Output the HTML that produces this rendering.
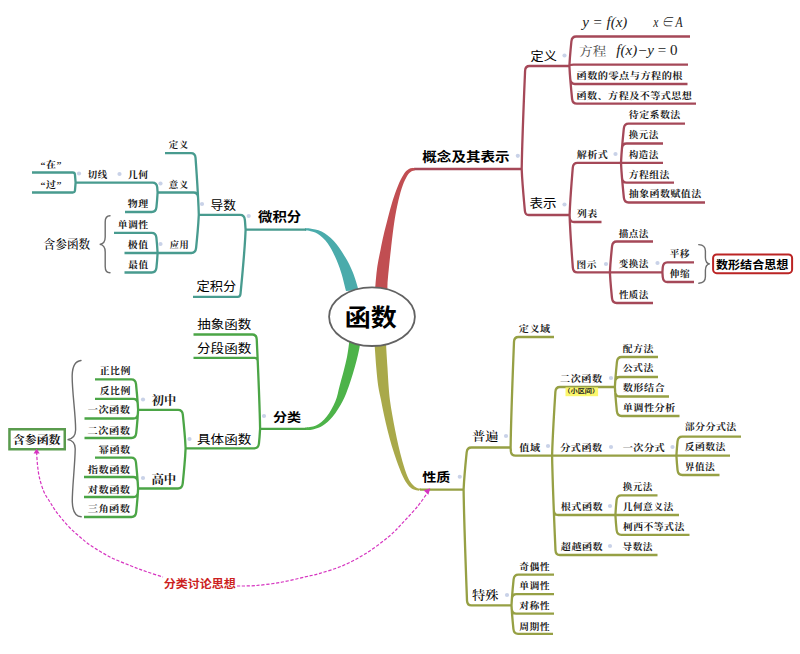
<!DOCTYPE html>
<html lang="zh-CN"><head><meta charset="utf-8"><title>函数 思维导图</title>
<style>html,body{margin:0;padding:0;background:#fff}svg{display:block}.ln{fill:none;stroke-width:2.3;stroke-linecap:butt;stroke-linejoin:round}.t{stroke:#489b8f}.g{stroke:#4ba546}.r{stroke:#a54858}.o{stroke:#96a044}.br{fill:none;stroke:#6c6c6c;stroke-width:1.4;stroke-linecap:round}</style></head><body>
<svg width="800" height="654" viewBox="0 0 800 654">
<rect width="800" height="654" fill="#fff"/>
<path d="M375,292 C375.08,290.67 375.1,288.33 375.5,284 C375.9,279.67 376.55,271.77 377.4,266 C378.25,260.23 379.58,254.47 380.6,249.4 C381.62,244.33 382.32,240.7 383.5,235.6 C384.68,230.5 386.17,224.65 387.7,218.8 C389.23,212.95 390.95,206.1 392.7,200.5 C394.45,194.9 396.38,189.53 398.2,185.2 C400.02,180.87 401.82,177.18 403.6,174.5 C405.38,171.82 407,170.21 408.9,169.1 C410.8,167.99 413.98,168.06 415,167.85 L415,170.15 C414.37,170.38 412.47,170.62 411.2,171.5 C409.93,172.38 408.8,173.12 407.4,175.4 C406,177.68 404.3,181.02 402.8,185.2 C401.3,189.38 399.73,194.9 398.4,200.5 C397.07,206.1 395.78,212.95 394.8,218.8 C393.82,224.65 393.15,230.5 392.5,235.6 C391.85,240.7 391.47,244.33 390.9,249.4 C390.33,254.47 389.67,260.23 389.1,266 C388.53,271.77 387.75,279.67 387.5,284 C387.25,288.33 387.58,290.67 387.6,292 Z" fill="#c14e52"/>
<path d="M305,228.35 C305.83,228.36 307.23,227.89 310,228.4 C312.77,228.91 317.63,229.3 321.6,231.4 C325.57,233.5 329.9,236.77 333.8,241 C337.7,245.23 341.83,251.6 345,256.8 C348.17,262 350.53,266.67 352.8,272.2 C355.07,277.73 357.63,287.03 358.6,290 L346,291 C345.2,287.95 343.03,278.43 341.2,272.7 C339.37,266.97 337.27,261.52 335,256.6 C332.73,251.68 330.5,247 327.6,243.2 C324.7,239.4 320.7,235.87 317.6,233.8 C314.5,231.73 311.1,231.33 309,230.8 C306.9,230.28 305.67,230.68 305,230.65 Z" fill="#4aabab"/>
<path d="M349.6,338 C349.48,339.1 349.33,341.43 348.9,344.6 C348.47,347.77 347.85,352.67 347,357 C346.15,361.33 345.03,365.78 343.8,370.6 C342.57,375.42 341,380.8 339.6,385.9 C338.2,391 337.55,396.1 335.4,401.2 C333.25,406.3 329.93,412.43 326.7,416.5 C323.47,420.57 319.57,423.75 316,425.6 C312.43,427.45 307.08,427.27 305.3,427.6 L305.3,429.9 C306.58,429.82 310.07,430.12 313,429.4 C315.93,428.68 319.6,427.75 322.9,425.6 C326.2,423.45 329.52,420.57 332.8,416.5 C336.08,412.43 339.92,406.3 342.6,401.2 C345.28,396.1 347.03,391 348.9,385.9 C350.77,380.8 352.42,375.25 353.8,370.6 C355.18,365.95 356.23,361.95 357.2,358 C358.17,354.05 359.05,350.23 359.6,346.9 C360.15,343.57 360.35,339.48 360.5,338 Z" fill="#4db349"/>
<path d="M374,338 C374.15,339.83 374.52,344 374.9,349 C375.28,354 375.75,361.83 376.3,368 C376.85,374.17 377.42,380.67 378.2,386 C378.98,391.33 380.03,395.17 381,400 C381.97,404.83 382.9,409.9 384,415 C385.1,420.1 386.3,425.43 387.6,430.6 C388.9,435.77 390.27,440.9 391.8,446 C393.33,451.1 394.95,456.12 396.8,461.2 C398.65,466.28 401.03,472.53 402.9,476.5 C404.77,480.47 406.32,482.87 408,485 C409.68,487.13 411.17,488.35 413,489.3 C414.83,490.25 418,490.47 419,490.7 L421,488.45 C420.33,488.36 418.5,488.64 417,487.9 C415.5,487.16 413.58,485.9 412,484 C410.42,482.1 409.1,480.3 407.5,476.5 C405.9,472.7 403.9,466.28 402.4,461.2 C400.9,456.12 399.7,451.1 398.5,446 C397.3,440.9 396.23,435.77 395.2,430.6 C394.17,425.43 393.18,420.1 392.3,415 C391.42,409.9 390.52,404.83 389.9,400 C389.28,395.17 389,391.33 388.6,386 C388.2,380.67 387.88,374.17 387.5,368 C387.12,361.83 386.55,354 386.3,349 C386.05,344 386.05,339.83 386,338 Z" fill="#a9a94a"/>
<path class="ln t" d="M306,229.7 H245 M245.6,229.7 L245.02,221.7 L244.82,219.6 Q244.33,214.8 240.13,214.8 H198.2 M245.6,229.7 L245.22,237.7 L244.7,245.7 L244.11,253.7 L243.46,261.7 L242.77,269.7 L242.05,277.7 L241.29,285.7 L240.51,293.7 L240.5,293.8 Q240.2,296.8 237.7,296.8 H193 M198.8,214.8 L198.52,206.8 L198.13,198.8 L197.69,190.8 L197.22,182.8 L196.71,174.8 L196.17,166.8 L195.61,158.8 L195.55,157.9 Q195.2,153.1 191,153.1 H165 M198.8,214.8 L198.52,206.8 L198.13,198.8 L198.05,197.3 Q197.79,192.5 193.59,192.5 H157 M198.8,214.8 L198.34,222.8 L197.71,230.8 L196.98,238.8 L196.2,246.8 L196.05,248.2 Q195.55,253 191.35,253 H157 M157.6,192.5 L157.23,187.4 Q156.76,182.6 152.56,182.6 H75 M157.6,192.5 L157.06,200.5 L156.44,207.2 Q155.94,212 151.74,212 H125 M75.6,182.6 L74.96,174.6 L74.95,174.5 Q74.74,172.5 72.74,172.5 H32 M75.6,182.6 L74.97,190.5 Q74.76,192.5 72.76,192.5 H32 M157.6,253 L157.06,245 L156.39,237.7 Q155.89,232.9 151.69,232.9 H114 M157,253 H124.5 M157.6,253 L157.06,261 L156.44,267.7 Q155.94,272.5 151.74,272.5 H124.5"/>
<path class="ln g" d="M306,428.8 H259.5 M260.1,428.8 L259.94,420.8 L259.71,412.8 L259.45,404.8 L259.17,396.8 L258.87,388.8 L258.55,380.8 L258.22,372.8 L257.88,364.8 L257.53,356.8 L257.17,348.8 L256.8,340.8 L256.73,339.3 Q256.5,334.5 252.3,334.5 H193.5 M260.1,428.8 L259.94,420.8 L259.71,412.8 L259.45,404.8 L259.17,396.8 L258.87,388.8 L258.55,380.8 L258.22,372.8 L257.88,364.8 L257.71,360.8 Q257.58,357.8 254.58,357.8 H193.5 M260.1,428.8 L259.56,436.8 L258.94,443.5 Q258.44,448.3 254.24,448.3 H185 M185.6,448.3 L185.14,440.3 L184.51,432.3 L183.79,424.3 L183,416.3 L182.83,414.6 Q182.33,409.8 178.13,409.8 H137.5 M185.6,448.3 L185.15,456.3 L184.52,464.3 L183.81,472.3 L183.03,480.3 L182.69,483.7 Q182.18,488.5 177.98,488.5 H137.5 M138.1,409.8 L137.61,401.8 L136.94,393.8 L136.18,385.8 L136.02,384.2 Q135.52,379.4 131.32,379.4 H95 M138.1,409.8 L137.75,403.6 Q137.37,398.8 133.17,398.8 H95 M138.1,409.8 L137.9,413.7 Q137.55,418.5 133.35,418.5 H84.5 M138.1,409.8 L137.6,417.8 L136.92,425.8 L136.2,433.2 Q135.7,438 131.5,438 H84.5 M138.1,488.5 L137.61,480.5 L136.95,472.5 L136.18,464.5 L135.98,462.5 Q135.48,457.7 131.28,457.7 H95 M138.1,488.5 L137.71,481.8 Q137.34,477 133.14,477 H84 M138.1,488.5 L137.91,492.2 Q137.57,497 133.37,497 H84 M138.1,488.5 L137.61,496.5 L136.92,504.5 L136.18,512.2 Q135.68,517 131.48,517 H84"/>
<path class="ln r" d="M414.5,169 H522.3 M521.7,169 L521.85,161 L522.05,153 L522.28,145 L522.54,137 L522.8,129 L523.09,121 L523.38,113 L523.69,105 L524,97 L524.32,89 L524.66,81 L525,73 L525.09,70.8 Q525.3,66 529.5,66 H570 M521.7,169 L522.1,177 L522.66,185 L523.3,193 L523.99,201 L524.72,209 L524.91,211 Q525.3,215 528.7,215 H570.2 M569.4,66 L569.89,58 L570.57,50 L571.34,42 L571.41,41.3 Q571.91,36.5 576.11,36.5 H690 M569.4,66 L569.4,66 Q569.46,64.6 573.66,64.6 H688 M569.4,66 L569.86,74 L570.26,79.2 Q570.67,84 574.87,84 H687.5 M569.4,66 L569.86,74 L570.5,82 L571.22,90 L572.01,98 L572.1,98.9 Q572.6,103.7 576.8,103.7 H696 M569.6,215 L569.95,207 L570.42,199 L570.97,191 L571.56,183 L572.19,175 L572.79,167.7 Q573.2,162.9 577.4,162.9 H621.6 M569.6,215 L569.66,217.2 Q569.86,222 574.06,222 H601.5 M569.6,215 L569.91,223 L570.33,231 L570.81,239 L571.33,247 L571.89,255 L572.48,263 L572.83,267.6 Q573.2,272.4 577.4,272.4 H610.5 M621,162.9 L621.46,154.9 L622.09,146.9 L622.8,138.9 L623.58,130.9 L623.84,128.4 Q624.34,123.6 628.54,123.6 H685 M621,162.9 L621.46,154.9 L621.97,148.3 Q622.38,143.5 626.58,143.5 H663 M621.6,162.9 H663 M621,162.9 L621.46,170.9 L621.99,177.8 Q622.41,182.6 626.61,182.6 H674 M621,162.9 L621.46,170.9 L622.08,178.9 L622.8,186.9 L623.58,194.9 L623.86,197.7 Q624.37,202.5 628.57,202.5 H705 M609.9,272.4 L610.39,264.4 L611.05,256.4 L611.82,248.4 L612.03,246.3 Q612.53,241.5 616.73,241.5 H653 M610.5,272.4 H663 M609.9,272.4 L610.39,280.4 L611.06,288.4 L611.82,296.4 L612,298.2 Q612.5,303 616.7,303 H653 M662.4,272.2 L662.74,267.4 Q663.23,262.4 667.23,262.4 H694 M662.4,272.2 L662.74,277 Q663.23,282 667.23,282 H694"/>
<path class="ln o" d="M420,489.6 H464.2 M463.6,489.6 L464.05,481.6 L464.67,473.6 L465.37,465.6 L466.14,457.6 L466.68,452.3 Q467.18,447.5 471.38,447.5 H511.2 M463.6,489.6 L463.73,497.6 L463.9,505.6 L464.1,513.6 L464.32,521.6 L464.55,529.6 L464.8,537.6 L465.05,545.6 L465.32,553.6 L465.59,561.6 L465.87,569.6 L466.15,577.6 L466.45,585.6 L466.75,593.6 L467.01,600.6 Q467.2,605.4 471.4,605.4 H512.1 M510.6,447.5 L510.74,439.5 L510.92,431.5 L511.13,423.5 L511.36,415.5 L511.61,407.5 L511.87,399.5 L512.14,391.5 L512.42,383.5 L512.71,375.5 L513,367.5 L513.31,359.5 L513.62,351.5 L513.94,343.5 L514.01,341.8 Q514.2,337 518.4,337 H554 M510.6,447.5 L510.9,451.7 Q511.3,455.7 515.5,455.7 H552.7 M552.1,455.7 L552.34,447.7 L552.68,439.7 L553.07,431.7 L553.49,423.7 L553.93,415.7 L554.4,407.7 L554.89,399.7 L555.39,391.8 Q555.7,387 559.9,387 H615.5 M552.7,455.7 H677 M552.1,455.7 L552.25,463.7 L552.47,471.7 L552.71,479.7 L552.97,487.7 L553.26,495.7 L553.55,503.7 L553.8,510.2 Q553.99,515 558.19,515 H616 M552.1,455.7 L552.25,463.7 L552.47,471.7 L552.71,479.7 L552.97,487.7 L553.26,495.7 L553.55,503.7 L553.86,511.7 L554.18,519.7 L554.51,527.7 L554.85,535.7 L555.2,543.7 L555.48,550.2 Q555.7,555 559.9,555 H657.5 M614.9,387 L615.39,379 L616.06,371 L616.83,363 L616.95,361.8 Q617.45,357 621.65,357 H658 M614.9,387 L615.19,381.8 Q615.55,377 619.75,377 H658 M614.9,387 L615.15,391.7 Q615.51,396.5 619.71,396.5 H669 M614.9,387 L615.39,395 L616.07,403 L616.85,411 L616.87,411.2 Q617.37,416 621.57,416 H679.5 M676.4,455.7 L676.95,447.7 L677.53,441.4 Q678.02,436.6 682.22,436.6 H741 M677,455.7 H730 M676.4,455.7 L676.95,463.7 L677.55,470.2 Q678.04,475 682.24,475 H719.5 M615.4,515 L615.94,507 L616.57,500.2 Q617.07,495.4 621.27,495.4 H657.5 M616,515 H679 M615.4,515 L615.94,523 L616.59,530 Q617.08,534.8 621.28,534.8 H689.5 M511.5,605.4 L511.99,597.4 L512.65,589.4 L513.42,581.4 L513.62,579.4 Q514.12,574.6 518.32,574.6 H554 M511.5,605.4 L511.87,598.9 Q512.25,594.1 516.45,594.1 H554 M511.5,605.4 L511.68,608.9 Q512.02,613.7 516.22,613.7 H554 M511.5,605.4 L512,613.4 L512.68,621.4 L513.42,629 Q513.91,633.8 518.11,633.8 H553"/>
<ellipse cx="372" cy="316.7" rx="42.9" ry="29.3" fill="#fff" stroke="#626262" stroke-width="1.8"/>
<rect x="9.45" y="429.25" width="55.3" height="20" fill="#fff" stroke="#5a9b4e" stroke-width="2.5"/>
<rect x="713.1" y="254.4" width="79" height="18.8" rx="3.6" ry="3.6" fill="#fff" stroke="#bb2424" stroke-width="2"/>
<rect x="565.5" y="387.4" width="32.6" height="8.8" fill="#fbf76c"/>
<path class="br" d="M110,215.8 C106.5,215.8 105.2,218 105.2,222 V237 C105.2,241.5 103.5,244 99.7,244.4 C103.5,244.8 105.2,247.3 105.2,252 V266.5 C105.2,270.5 106.5,272.8 110,272.8"/>
<path class="br" d="M81,360.5 C76,361 72.6,364 72.2,375 C71.8,390 75.8,415 75.6,430 C75.5,436 72.5,439 67.5,439.6 C72.5,440.2 75.3,443 75.2,449 C75,465 72,490 72.3,502 C72.6,512 76,516.4 81.2,516.8"/>
<path class="br" d="M698.8,244.6 C703.4,244.8 705.4,246.8 705.4,251 V257.5 C705.4,261.5 706.6,263.5 709.8,263.9 C706.6,264.3 705.4,266.3 705.4,270.3 V276.8 C705.4,281 703.4,283 698.8,283.2"/>
<path d="M36.6,452 C36.75,454.17 37.02,460.67 37.5,465 C37.98,469.33 38.42,473.5 39.5,478 C40.58,482.5 42.25,488 44,492 C45.75,496 48.17,499 50,502 C51.83,505 53,507.17 55,510 C57,512.83 59.5,516 62,519 C64.5,522 67,525 70,528 C73,531 76.67,534.17 80,537 C83.33,539.83 85,541.67 90,545 C95,548.33 103.33,553.58 110,557 C116.67,560.42 124,563.08 130,565.5 C136,567.92 140.5,569.58 146,571.5 C151.5,573.42 160.17,576.08 163,577" fill="none" stroke="#d634c0" stroke-width="1.2" stroke-dasharray="3.2 1.7"/>
<path d="M237,586 C240,585.93 247.83,586.18 255,585.6 C262.17,585.02 271.67,583.95 280,582.5 C288.33,581.05 298.33,578.43 305,576.9 C311.67,575.37 313.68,575.18 320,573.3 C326.32,571.42 335.25,568.92 342.9,565.6 C350.55,562.28 358.25,558.23 365.9,553.4 C373.55,548.57 382.43,541.95 388.8,536.6 C395.17,531.25 399.25,526.4 404.1,521.3 C408.95,516.2 414.03,510.72 417.9,506 C421.77,501.28 425.73,495.17 427.3,493" fill="none" stroke="#d634c0" stroke-width="1.2" stroke-dasharray="3.2 1.7"/>
<path d="M36.6,448.6 L33.6,453.6 L39.6,453.6 Z" fill="#d634c0"/>
<path d="M430.3,488.2 L423.8,490.6 L428.4,494.8 Z" fill="#d634c0"/>
<circle cx="79" cy="173.5" r="2.1" fill="#c9d2e8"/>
<circle cx="119.5" cy="174" r="2.1" fill="#c9d2e8"/>
<circle cx="160.5" cy="183.5" r="2.1" fill="#c9d2e8"/>
<circle cx="160.5" cy="244" r="2.1" fill="#c9d2e8"/>
<circle cx="202" cy="204" r="2.1" fill="#c9d2e8"/>
<circle cx="248.7" cy="216" r="2.1" fill="#c9d2e8"/>
<circle cx="143" cy="399.5" r="2.1" fill="#c9d2e8"/>
<circle cx="143" cy="478" r="2.1" fill="#c9d2e8"/>
<circle cx="189.5" cy="439" r="2.1" fill="#c9d2e8"/>
<circle cx="264" cy="416" r="2.1" fill="#c9d2e8"/>
<circle cx="517.8" cy="155.8" r="2.1" fill="#c9d2e8"/>
<circle cx="564.5" cy="55.5" r="2.1" fill="#c9d2e8"/>
<circle cx="564.5" cy="204.5" r="2.1" fill="#c9d2e8"/>
<circle cx="615.5" cy="154" r="2.1" fill="#c9d2e8"/>
<circle cx="606" cy="264" r="2.1" fill="#c9d2e8"/>
<circle cx="657.5" cy="263" r="2.1" fill="#c9d2e8"/>
<circle cx="459.75" cy="476.75" r="2.1" fill="#c9d2e8"/>
<circle cx="506" cy="436" r="2.1" fill="#c9d2e8"/>
<circle cx="507" cy="595" r="2.1" fill="#c9d2e8"/>
<circle cx="548" cy="446" r="2.1" fill="#c9d2e8"/>
<circle cx="611" cy="378" r="2.1" fill="#c9d2e8"/>
<circle cx="611" cy="447" r="2.1" fill="#c9d2e8"/>
<circle cx="672.5" cy="447" r="2.1" fill="#c9d2e8"/>
<circle cx="610" cy="506" r="2.1" fill="#c9d2e8"/>
<circle cx="610" cy="546" r="2.1" fill="#c9d2e8"/>
<text transform="translate(344.67,326.46) scale(1.043,0.950)" font-family='"Liberation Sans","Noto Sans CJK SC",sans-serif' font-weight="700" font-size="25" fill="#000">函数</text>
<text transform="translate(40.55,167.94) scale(1.004,0.905)" font-family='"Liberation Serif","Noto Serif CJK SC",serif' font-weight="700" font-size="9.95" letter-spacing="0.45" fill="#1a1a1a">“在”</text>
<text transform="translate(40.55,187.92) scale(1.004,0.905)" font-family='"Liberation Serif","Noto Serif CJK SC",serif' font-weight="700" font-size="9.95" letter-spacing="0.45" fill="#1a1a1a">“过”</text>
<text transform="translate(87.81,177.8) scale(0.948,0.905)" font-family='"Liberation Serif","Noto Serif CJK SC",serif' font-weight="700" font-size="9.95" letter-spacing="0.45" fill="#1a1a1a">切线</text>
<text transform="translate(127.75,177.92) scale(1.003,0.905)" font-family='"Liberation Serif","Noto Serif CJK SC",serif' font-weight="700" font-size="9.95" letter-spacing="0.45" fill="#1a1a1a">几何</text>
<text transform="translate(168.71,188.05) scale(0.960,0.905)" font-family='"Liberation Serif","Noto Serif CJK SC",serif' font-weight="700" font-size="9.95" letter-spacing="0.45" fill="#1a1a1a">意义</text>
<text transform="translate(127.75,206.92) scale(1.000,0.905)" font-family='"Liberation Serif","Noto Serif CJK SC",serif' font-weight="700" font-size="9.95" letter-spacing="0.45" fill="#1a1a1a">物理</text>
<text transform="translate(168.81,147.89) scale(0.955,0.905)" font-family='"Liberation Serif","Noto Serif CJK SC",serif' font-weight="700" font-size="9.95" letter-spacing="0.45" fill="#1a1a1a">定义</text>
<text transform="translate(117.75,228.07) scale(0.987,0.905)" font-family='"Liberation Serif","Noto Serif CJK SC",serif' font-weight="700" font-size="9.95" letter-spacing="0.45" fill="#1a1a1a">单调性</text>
<text transform="translate(127.85,247.89) scale(0.995,0.905)" font-family='"Liberation Serif","Noto Serif CJK SC",serif' font-weight="700" font-size="9.95" letter-spacing="0.45" fill="#1a1a1a">极值</text>
<text transform="translate(128.26,267.82) scale(0.975,0.905)" font-family='"Liberation Serif","Noto Serif CJK SC",serif' font-weight="700" font-size="9.95" letter-spacing="0.45" fill="#1a1a1a">最值</text>
<text transform="translate(169.77,247.92) scale(0.930,0.905)" font-family='"Liberation Serif","Noto Serif CJK SC",serif' font-weight="700" font-size="9.95" letter-spacing="0.45" fill="#1a1a1a">应用</text>
<text transform="translate(43.6,249.15) scale(0.997,1.040)" font-family='"Liberation Serif","Noto Serif CJK SC",serif' font-weight="500" font-size="11.7" fill="#000">含参函数</text>
<text transform="translate(210.4,209.69) scale(0.959,0.910)" font-family='"Liberation Sans","Noto Sans CJK SC",sans-serif' font-weight="400" font-size="13.3" fill="#000">导数</text>
<text transform="translate(258,221.41) scale(1.001,0.890)" font-family='"Liberation Sans","Noto Sans CJK SC",sans-serif' font-weight="700" font-size="14.4" fill="#000">微积分</text>
<text transform="translate(196.59,291.38) scale(0.998,0.910)" font-family='"Liberation Sans","Noto Sans CJK SC",sans-serif' font-weight="400" font-size="13.3" fill="#000">定积分</text>
<text transform="translate(197.29,329.38) scale(1.014,0.910)" font-family='"Liberation Sans","Noto Sans CJK SC",sans-serif' font-weight="400" font-size="13.3" fill="#000">抽象函数</text>
<text transform="translate(197.08,352.63) scale(1.018,0.910)" font-family='"Liberation Sans","Noto Sans CJK SC",sans-serif' font-weight="400" font-size="13.3" fill="#000">分段函数</text>
<text transform="translate(197.08,443.54) scale(1.018,0.910)" font-family='"Liberation Sans","Noto Sans CJK SC",sans-serif' font-weight="400" font-size="13.3" fill="#000">具体函数</text>
<text transform="translate(273.06,421.59) scale(1.013,0.900)" font-family='"Liberation Sans","Noto Sans CJK SC",sans-serif' font-weight="700" font-size="13.9" fill="#000">分类</text>
<text transform="translate(151.85,404.82) scale(1.000,1.000)" font-family='"Liberation Serif","Noto Serif CJK SC",serif' font-weight="700" font-size="12.2" fill="#1a1a1a">初中</text>
<text transform="translate(151.49,484.08) scale(1.015,1.000)" font-family='"Liberation Serif","Noto Serif CJK SC",serif' font-weight="700" font-size="12.2" fill="#1a1a1a">高中</text>
<text transform="translate(99.7,373.67) scale(0.997,0.905)" font-family='"Liberation Serif","Noto Serif CJK SC",serif' font-weight="700" font-size="9.95" letter-spacing="0.45" fill="#1a1a1a">正比例</text>
<text transform="translate(99.75,393.92) scale(0.995,0.905)" font-family='"Liberation Serif","Noto Serif CJK SC",serif' font-weight="700" font-size="9.95" letter-spacing="0.45" fill="#1a1a1a">反比例</text>
<text transform="translate(87.69,413.44) scale(1.031,0.905)" font-family='"Liberation Serif","Noto Serif CJK SC",serif' font-weight="700" font-size="9.95" letter-spacing="0.45" fill="#1a1a1a">一次函数</text>
<text transform="translate(87.59,433.64) scale(1.033,0.905)" font-family='"Liberation Serif","Noto Serif CJK SC",serif' font-weight="700" font-size="9.95" letter-spacing="0.45" fill="#1a1a1a">二次函数</text>
<text transform="translate(98.8,452.94) scale(1.018,0.905)" font-family='"Liberation Serif","Noto Serif CJK SC",serif' font-weight="700" font-size="9.95" letter-spacing="0.45" fill="#1a1a1a">幂函数</text>
<text transform="translate(87.85,472.94) scale(1.027,0.905)" font-family='"Liberation Serif","Noto Serif CJK SC",serif' font-weight="700" font-size="9.95" letter-spacing="0.45" fill="#1a1a1a">指数函数</text>
<text transform="translate(87.79,492.69) scale(1.028,0.905)" font-family='"Liberation Serif","Noto Serif CJK SC",serif' font-weight="700" font-size="9.95" letter-spacing="0.45" fill="#1a1a1a">对数函数</text>
<text transform="translate(87.69,512.44) scale(1.031,0.905)" font-family='"Liberation Serif","Noto Serif CJK SC",serif' font-weight="700" font-size="9.95" letter-spacing="0.45" fill="#1a1a1a">三角函数</text>
<text transform="translate(12.64,443.75) scale(1.026,1.000)" font-family='"Liberation Serif","Noto Serif CJK SC",serif' font-weight="700" font-size="11.7" fill="#111">含参函数</text>
<text transform="translate(163.65,587.94) scale(1.010,0.925)" font-family='"Liberation Sans","Noto Sans CJK SC",sans-serif' font-weight="700" font-size="11.9" fill="#cc1f1f">分类讨论思想</text>
<text transform="translate(422.27,160.76) scale(1.012,0.890)" font-family='"Liberation Sans","Noto Sans CJK SC",sans-serif' font-weight="700" font-size="14.4" fill="#000">概念及其表示</text>
<text transform="translate(530.59,60.83) scale(0.986,0.910)" font-family='"Liberation Sans","Noto Sans CJK SC",sans-serif' font-weight="400" font-size="13.3" fill="#000">定义</text>
<text transform="translate(529.58,208.29) scale(1.017,0.910)" font-family='"Liberation Sans","Noto Sans CJK SC",sans-serif' font-weight="400" font-size="13.3" fill="#000">表示</text>
<text transform="translate(579.08,55.87) scale(1.028,0.914)" font-family='"Liberation Serif","Noto Serif CJK SC",serif' font-weight="400" font-size="13.2" fill="#4d4d4d">方程</text>
<text transform="translate(576.54,79.27) scale(1.024,0.905)" font-family='"Liberation Serif","Noto Serif CJK SC",serif' font-weight="700" font-size="9.95" letter-spacing="0.45" fill="#1a1a1a">函数的零点与方程的根</text>
<text transform="translate(576.54,99.2) scale(1.013,0.905)" font-family='"Liberation Serif","Noto Serif CJK SC",serif' font-weight="700" font-size="9.95" letter-spacing="0.45" fill="#1a1a1a">函数、方程及不等式思想</text>
<text transform="translate(576.75,158.08) scale(1.008,0.905)" font-family='"Liberation Serif","Noto Serif CJK SC",serif' font-weight="700" font-size="9.95" letter-spacing="0.45" fill="#1a1a1a">解析式</text>
<text transform="translate(628.8,118.39) scale(0.999,0.905)" font-family='"Liberation Serif","Noto Serif CJK SC",serif' font-weight="700" font-size="9.95" letter-spacing="0.45" fill="#1a1a1a">待定系数法</text>
<text transform="translate(628.81,138.22) scale(0.960,0.905)" font-family='"Liberation Serif","Noto Serif CJK SC",serif' font-weight="700" font-size="9.95" letter-spacing="0.45" fill="#1a1a1a">换元法</text>
<text transform="translate(628.81,157.87) scale(0.960,0.905)" font-family='"Liberation Serif","Noto Serif CJK SC",serif' font-weight="700" font-size="9.95" letter-spacing="0.45" fill="#1a1a1a">构造法</text>
<text transform="translate(628.7,177.87) scale(0.987,0.905)" font-family='"Liberation Serif","Noto Serif CJK SC",serif' font-weight="700" font-size="9.95" letter-spacing="0.45" fill="#1a1a1a">方程组法</text>
<text transform="translate(628.8,197.29) scale(1.002,0.905)" font-family='"Liberation Serif","Noto Serif CJK SC",serif' font-weight="700" font-size="9.95" letter-spacing="0.45" fill="#1a1a1a">抽象函数赋值法</text>
<text transform="translate(576.8,216.89) scale(1.005,0.905)" font-family='"Liberation Serif","Noto Serif CJK SC",serif' font-weight="700" font-size="9.95" letter-spacing="0.45" fill="#1a1a1a">列表</text>
<text transform="translate(576.57,267.62) scale(0.975,0.905)" font-family='"Liberation Serif","Noto Serif CJK SC",serif' font-weight="700" font-size="9.95" letter-spacing="0.45" fill="#1a1a1a">图示</text>
<text transform="translate(618.81,236.62) scale(0.960,0.905)" font-family='"Liberation Serif","Noto Serif CJK SC",serif' font-weight="700" font-size="9.95" letter-spacing="0.45" fill="#1a1a1a">描点法</text>
<text transform="translate(618.76,266.67) scale(0.962,0.905)" font-family='"Liberation Serif","Noto Serif CJK SC",serif' font-weight="700" font-size="9.95" letter-spacing="0.45" fill="#1a1a1a">变换法</text>
<text transform="translate(618.9,297.64) scale(0.957,0.905)" font-family='"Liberation Serif","Noto Serif CJK SC",serif' font-weight="700" font-size="9.95" letter-spacing="0.45" fill="#1a1a1a">性质法</text>
<text transform="translate(669.71,257.42) scale(0.977,0.905)" font-family='"Liberation Serif","Noto Serif CJK SC",serif' font-weight="700" font-size="9.95" letter-spacing="0.45" fill="#1a1a1a">平移</text>
<text transform="translate(669.85,276.92) scale(0.970,0.905)" font-family='"Liberation Serif","Noto Serif CJK SC",serif' font-weight="700" font-size="9.95" letter-spacing="0.45" fill="#1a1a1a">伸缩</text>
<text transform="translate(715.95,268.9) scale(1.008,0.957)" font-family='"Liberation Sans","Noto Sans CJK SC",sans-serif' font-weight="700" font-size="12" fill="#000">数形结合思想</text>
<text transform="translate(422.28,481.99) scale(1.013,0.900)" font-family='"Liberation Sans","Noto Sans CJK SC",sans-serif' font-weight="700" font-size="13.9" fill="#000">性质</text>
<text transform="translate(471.98,441.43) scale(1.032,0.960)" font-family='"Liberation Serif","Noto Serif CJK SC",serif' font-weight="500" font-size="12.8" fill="#000">普遍</text>
<text transform="translate(471.94,600.46) scale(1.034,0.960)" font-family='"Liberation Serif","Noto Serif CJK SC",serif' font-weight="500" font-size="12.8" fill="#000">特殊</text>
<text transform="translate(518.8,332.3) scale(1.018,0.905)" font-family='"Liberation Serif","Noto Serif CJK SC",serif' font-weight="700" font-size="9.95" letter-spacing="0.45" fill="#1a1a1a">定义域</text>
<text transform="translate(519.3,450.58) scale(1.022,0.905)" font-family='"Liberation Serif","Noto Serif CJK SC",serif' font-weight="700" font-size="9.95" letter-spacing="0.45" fill="#1a1a1a">值域</text>
<text transform="translate(560.09,381.94) scale(1.021,0.905)" font-family='"Liberation Serif","Noto Serif CJK SC",serif' font-weight="700" font-size="9.95" letter-spacing="0.45" fill="#1a1a1a">二次函数</text>
<text transform="translate(560.3,450.6) scale(1.016,0.905)" font-family='"Liberation Serif","Noto Serif CJK SC",serif' font-weight="700" font-size="9.95" letter-spacing="0.45" fill="#1a1a1a">分式函数</text>
<text transform="translate(622.69,450.6) scale(1.022,0.905)" font-family='"Liberation Serif","Noto Serif CJK SC",serif' font-weight="700" font-size="9.95" letter-spacing="0.45" fill="#1a1a1a">一次分式</text>
<text transform="translate(560.8,510.25) scale(1.016,0.905)" font-family='"Liberation Serif","Noto Serif CJK SC",serif' font-weight="700" font-size="9.95" letter-spacing="0.45" fill="#1a1a1a">根式函数</text>
<text transform="translate(560.85,550.34) scale(1.015,0.905)" font-family='"Liberation Serif","Noto Serif CJK SC",serif' font-weight="700" font-size="9.95" letter-spacing="0.45" fill="#1a1a1a">超越函数</text>
<text transform="translate(622.7,351.87) scale(0.995,0.905)" font-family='"Liberation Serif","Noto Serif CJK SC",serif' font-weight="700" font-size="9.95" letter-spacing="0.45" fill="#1a1a1a">配方法</text>
<text transform="translate(622.8,371.12) scale(0.992,0.905)" font-family='"Liberation Serif","Noto Serif CJK SC",serif' font-weight="700" font-size="9.95" letter-spacing="0.45" fill="#1a1a1a">公式法</text>
<text transform="translate(622.74,391.19) scale(1.021,0.905)" font-family='"Liberation Serif","Noto Serif CJK SC",serif' font-weight="700" font-size="9.95" letter-spacing="0.45" fill="#1a1a1a">数形结合</text>
<text transform="translate(622.75,411.44) scale(1.019,0.905)" font-family='"Liberation Serif","Noto Serif CJK SC",serif' font-weight="700" font-size="9.95" letter-spacing="0.45" fill="#1a1a1a">单调性分析</text>
<text transform="translate(684.7,430.39) scale(1.001,0.905)" font-family='"Liberation Serif","Noto Serif CJK SC",serif' font-weight="700" font-size="9.95" letter-spacing="0.45" fill="#1a1a1a">部分分式法</text>
<text transform="translate(684.75,450.39) scale(0.986,0.905)" font-family='"Liberation Serif","Noto Serif CJK SC",serif' font-weight="700" font-size="9.95" letter-spacing="0.45" fill="#1a1a1a">反函数法</text>
<text transform="translate(684.76,469.62) scale(0.978,0.905)" font-family='"Liberation Serif","Noto Serif CJK SC",serif' font-weight="700" font-size="9.95" letter-spacing="0.45" fill="#1a1a1a">界值法</text>
<text transform="translate(622.81,490.07) scale(0.960,0.905)" font-family='"Liberation Serif","Noto Serif CJK SC",serif' font-weight="700" font-size="9.95" letter-spacing="0.45" fill="#1a1a1a">换元法</text>
<text transform="translate(622.75,510.14) scale(0.981,0.905)" font-family='"Liberation Serif","Noto Serif CJK SC",serif' font-weight="700" font-size="9.95" letter-spacing="0.45" fill="#1a1a1a">几何意义法</text>
<text transform="translate(622.9,530.02) scale(0.991,0.905)" font-family='"Liberation Serif","Noto Serif CJK SC",serif' font-weight="700" font-size="9.95" letter-spacing="0.45" fill="#1a1a1a">柯西不等式法</text>
<text transform="translate(622.61,550.02) scale(0.966,0.905)" font-family='"Liberation Serif","Noto Serif CJK SC",serif' font-weight="700" font-size="9.95" letter-spacing="0.45" fill="#1a1a1a">导数法</text>
<text transform="translate(519.2,569.52) scale(0.988,0.905)" font-family='"Liberation Serif","Noto Serif CJK SC",serif' font-weight="700" font-size="9.95" letter-spacing="0.45" fill="#1a1a1a">奇偶性</text>
<text transform="translate(519.25,589.32) scale(0.987,0.905)" font-family='"Liberation Serif","Noto Serif CJK SC",serif' font-weight="700" font-size="9.95" letter-spacing="0.45" fill="#1a1a1a">单调性</text>
<text transform="translate(519.3,609.07) scale(0.985,0.905)" font-family='"Liberation Serif","Noto Serif CJK SC",serif' font-weight="700" font-size="9.95" letter-spacing="0.45" fill="#1a1a1a">对称性</text>
<text transform="translate(519.2,629.52) scale(0.988,0.905)" font-family='"Liberation Serif","Noto Serif CJK SC",serif' font-weight="700" font-size="9.95" letter-spacing="0.45" fill="#1a1a1a">周期性</text>
<text transform="translate(563.33,393.12) scale(1.070,0.880)" font-family='"Liberation Sans","Noto Sans CJK SC",sans-serif' font-weight="700" font-size="6.7" fill="#222">（小区间）</text>
<text transform="translate(582.21,27) scale(1.035,1)" font-family='"Liberation Serif","Noto Serif CJK SC",serif' font-style="italic" font-size="14.5" fill="#222" xml:space="preserve">y = f(x)</text>
<text transform="translate(653.14,27) scale(0.800,1)" font-family='"Liberation Serif","Noto Serif CJK SC",serif' font-style="italic" font-size="14.5" fill="#222" xml:space="preserve">x ∈ A</text>
<text transform="translate(616.3,55.3) scale(1.037,1)" font-family='"Liberation Serif","Noto Serif CJK SC",serif' font-style="italic" font-size="14.5" fill="#222" xml:space="preserve">f(x)−y<tspan font-style="normal"> = 0</tspan></text>
</svg></body></html>
